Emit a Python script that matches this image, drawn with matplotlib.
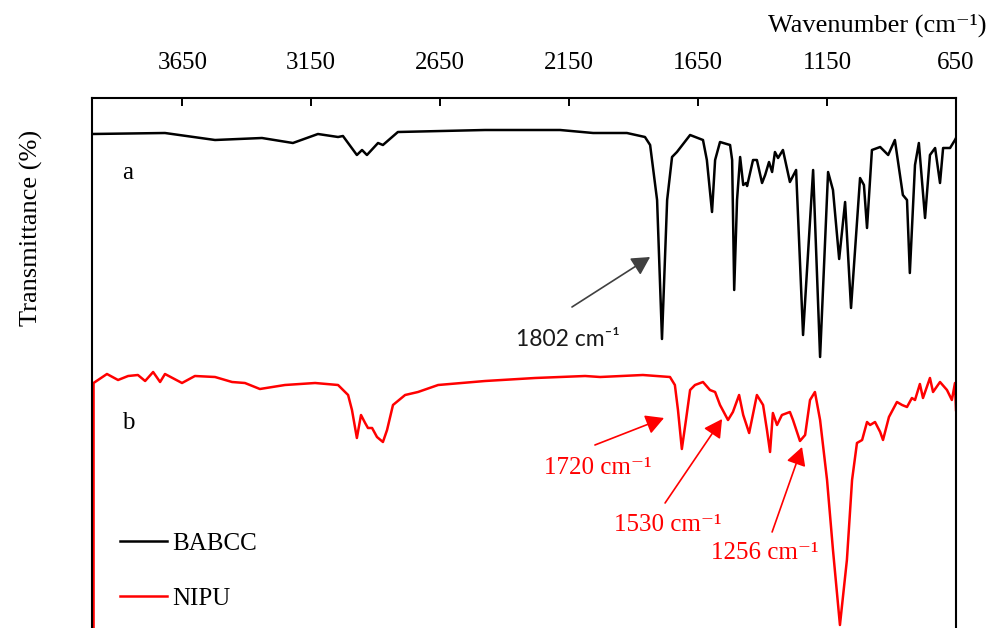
import matplotlib
matplotlib.use("Agg")
import matplotlib.pyplot as plt

SERIF = ["Liberation Serif", "DejaVu Serif"]
SANS = ["Lato", "DejaVu Sans"]

# wavenumber (cm-1) and transmittance (arbitrary offset units)
babcc_wn = [4000, 3717, 3523, 3341, 3221, 3124, 3046, 3027, 2973, 2953, 2934, 2891,
            2872, 2814, 2476, 2185, 2057, 1926, 1856, 1836, 1809, 1790, 1770, 1751,
            1732, 1681, 1631, 1616, 1596, 1584, 1565, 1526, 1518, 1510, 1499, 1487,
            1475, 1464, 1460, 1437, 1422, 1402, 1390, 1375, 1363, 1352, 1340, 1321,
            1294, 1270, 1243, 1204, 1177, 1146, 1127, 1103, 1080, 1057, 1022, 1007,
            995, 976, 944, 913, 887, 856, 840, 829, 809, 794, 770, 751, 731, 712,
            700, 673, 654, 650]
babcc_t = [494, 495, 488, 490, 485, 494, 491, 492, 473, 478, 473, 485,
           483, 496, 498, 498, 495, 495, 491, 483, 428, 289, 428, 471,
           476, 493, 488, 468, 416, 468, 486, 483, 468, 338, 428, 471,
           443, 445, 442, 468, 468, 445, 453, 466, 456, 476, 470, 478,
           446, 458, 293, 458, 271, 456, 438, 369, 426, 320, 450, 443,
           400, 478, 481, 473, 488, 433, 428, 355, 463, 485, 410, 473, 480, 445,
           480, 480, 488, 490]

nipu_wn = [3994, 3994, 3942, 3899, 3860, 3822, 3794, 3763, 3736, 3717, 3651, 3601,
           3523, 3457, 3407, 3349, 3252, 3135, 3046, 3007, 2992, 2973, 2957, 2941,
           2930, 2914, 2895, 2872, 2856, 2833, 2786, 2736, 2658, 2476, 2282, 2088,
           2030, 1864, 1759, 1740, 1728, 1713, 1697, 1681, 1662, 1631, 1604, 1584,
           1565, 1534, 1515, 1491, 1475, 1452, 1422, 1398, 1383, 1371, 1360, 1344,
           1325, 1294, 1282, 1255, 1235, 1216, 1197, 1177, 1150, 1127, 1100, 1073,
           1053, 1034, 1014, 995, 983, 964, 944, 933, 910, 879, 859, 840, 821, 809,
           790, 778, 751, 739, 712, 685, 666, 654, 650]
nipu_t = [-60, 245, 254, 248, 252, 253, 247, 256, 246, 254, 245, 252,
          251, 246, 245, 239, 243, 245, 243, 233, 218, 190, 213, 205,
          200, 200, 191, 186, 198, 223, 233, 236, 243, 247, 250, 252,
          251, 253, 251, 243, 218, 179, 208, 238, 243, 246, 238, 236,
          223, 208, 216, 233, 213, 195, 233, 223, 198, 176, 215, 203,
          213, 216, 208, 187, 193, 228, 236, 208, 148, 78, 3, 68,
          148, 185, 188, 206, 203, 206, 196, 188, 211, 226, 223, 221, 230, 228,
          244, 230, 250, 236, 246, 238, 228, 245, 218]

x_ticks = [3650, 3150, 2650, 2150, 1650, 1150, 650]

# (label, arrow tip, arrow tail, text centre, text colour, arrow colour, font, size)
peak_notes = [
    ("1802 cm\u207b\u00b9", (1836, 371), (2139, 321), (2154, 288), "#1a1a1a", "#404040", SANS, 16.5),
    ("1720 cm\u207b\u00b9", (1782, 210), (2050, 183), (2038, 160), "red", "red", SERIF, 18),
    ("1530 cm\u207b\u00b9", (1557, 209), (1778, 125), (1767, 103), "red", "red", SERIF, 18),
    ("1256 cm\u207b\u00b9", (1247, 181), (1363, 96), (1390, 75), "red", "red", SERIF, 18),
]

plt.rcParams["font.family"] = SERIF

fig = plt.figure(figsize=(9.93, 6.28), dpi=100)
ax = fig.add_axes([92 / 993, 0.0, 864 / 993, 1 - 98 / 628])

ax.plot(babcc_wn, babcc_t, color="black", lw=1.8, label="BABCC")
ax.plot(nipu_wn, nipu_t, color="red", lw=1.8, label="NIPU")

ax.set_xlim(4000, 650)
ax.set_ylim(0, 530)
ax.set_xticks(x_ticks)
ax.xaxis.tick_top()
ax.tick_params(axis="x", direction="in", length=6, width=1.4, pad=17, labelsize=18)
ax.set_yticks([])
ax.spines["bottom"].set_visible(False)
for side in ("top", "left", "right"):
    ax.spines[side].set_linewidth(1.5)

fig.text(987 / 993, 1 - 25 / 628, "Wavenumber (cm\u207b\u00b9)", ha="right",
         va="center", fontsize=19)
fig.text(31 / 993, 1 - 228 / 628, "Transmittance (%)", rotation=90, ha="center",
         va="center", fontsize=19)

ax.text(3860, 455, "a", ha="center", va="center", fontsize=18)
ax.text(3860, 205, "b", ha="center", va="center", fontsize=18)

for label, tip, tail, pos, tcol, acol, fam, size in peak_notes:
    ax.annotate("", xy=tip, xytext=tail,
                arrowprops=dict(arrowstyle="-|>,head_length=0.55,head_width=0.3",
                                color=acol, lw=1.2, shrinkA=0, shrinkB=0,
                                mutation_scale=20))
    ax.text(pos[0], pos[1], label, color=tcol, ha="center", va="center",
            fontsize=size, family=fam)

ax.legend(loc="upper left", bbox_to_anchor=(0.032, 0.18), frameon=False,
          fontsize=18, handlelength=1.9, handletextpad=0.2, labelspacing=1.3,
          borderpad=0, borderaxespad=0)

fig.savefig("out.png", dpi=100)
